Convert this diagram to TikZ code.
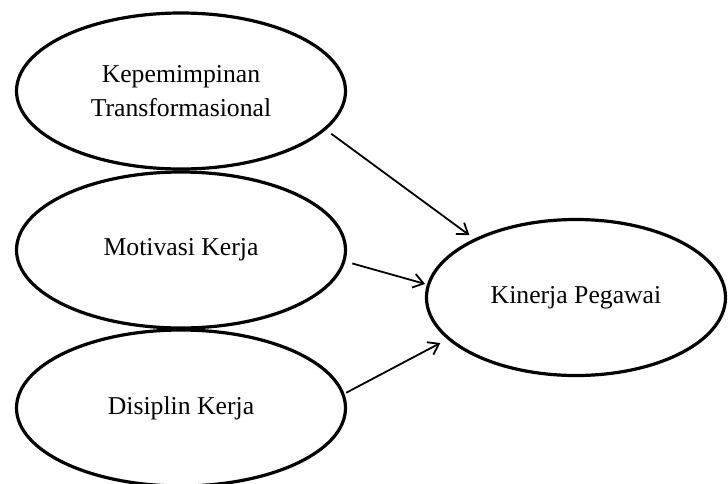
\documentclass[tikz,border=0pt]{standalone}
\usepackage{fontspec}
\setmainfont{Liberation Serif}
\usetikzlibrary{shapes.geometric,arrows.meta}
\begin{document}
\begin{tikzpicture}[x=1pt,y=-1pt,
  var/.style={ellipse,draw=black,line width=3.2pt,inner sep=0pt,
    minimum width=329pt,minimum height=156pt,align=center,
    font=\fontsize{25.7}{34}\selectfont},
  link/.style={-{Straight Barb[length=10pt,width=14pt]},line width=1.8pt}]
\useasboundingbox (0,0) rectangle (728,483);
\node[var] (kt) at (181,91) {Kepemimpinan\\Transformasional};
\node[var] (mk) at (181,250) {Motivasi Kerja};
\node[var] (dk) at (181,408) {Disiplin Kerja};
\node[var,minimum width=299pt] (kp) at (576,297.5) {Kinerja Pegawai};
\draw[link,shorten <=6.6pt,shorten >=6pt] (kt.-15.2) -- (kp.150.2);
\draw[link,shorten <=7.2pt,shorten >=2pt] (mk.-4.5) -- (kp.175.3);
\draw[link,shorten <=2pt,shorten >=8pt] (dk.5.2) -- (kp.-162.6);
\end{tikzpicture}
\end{document}
